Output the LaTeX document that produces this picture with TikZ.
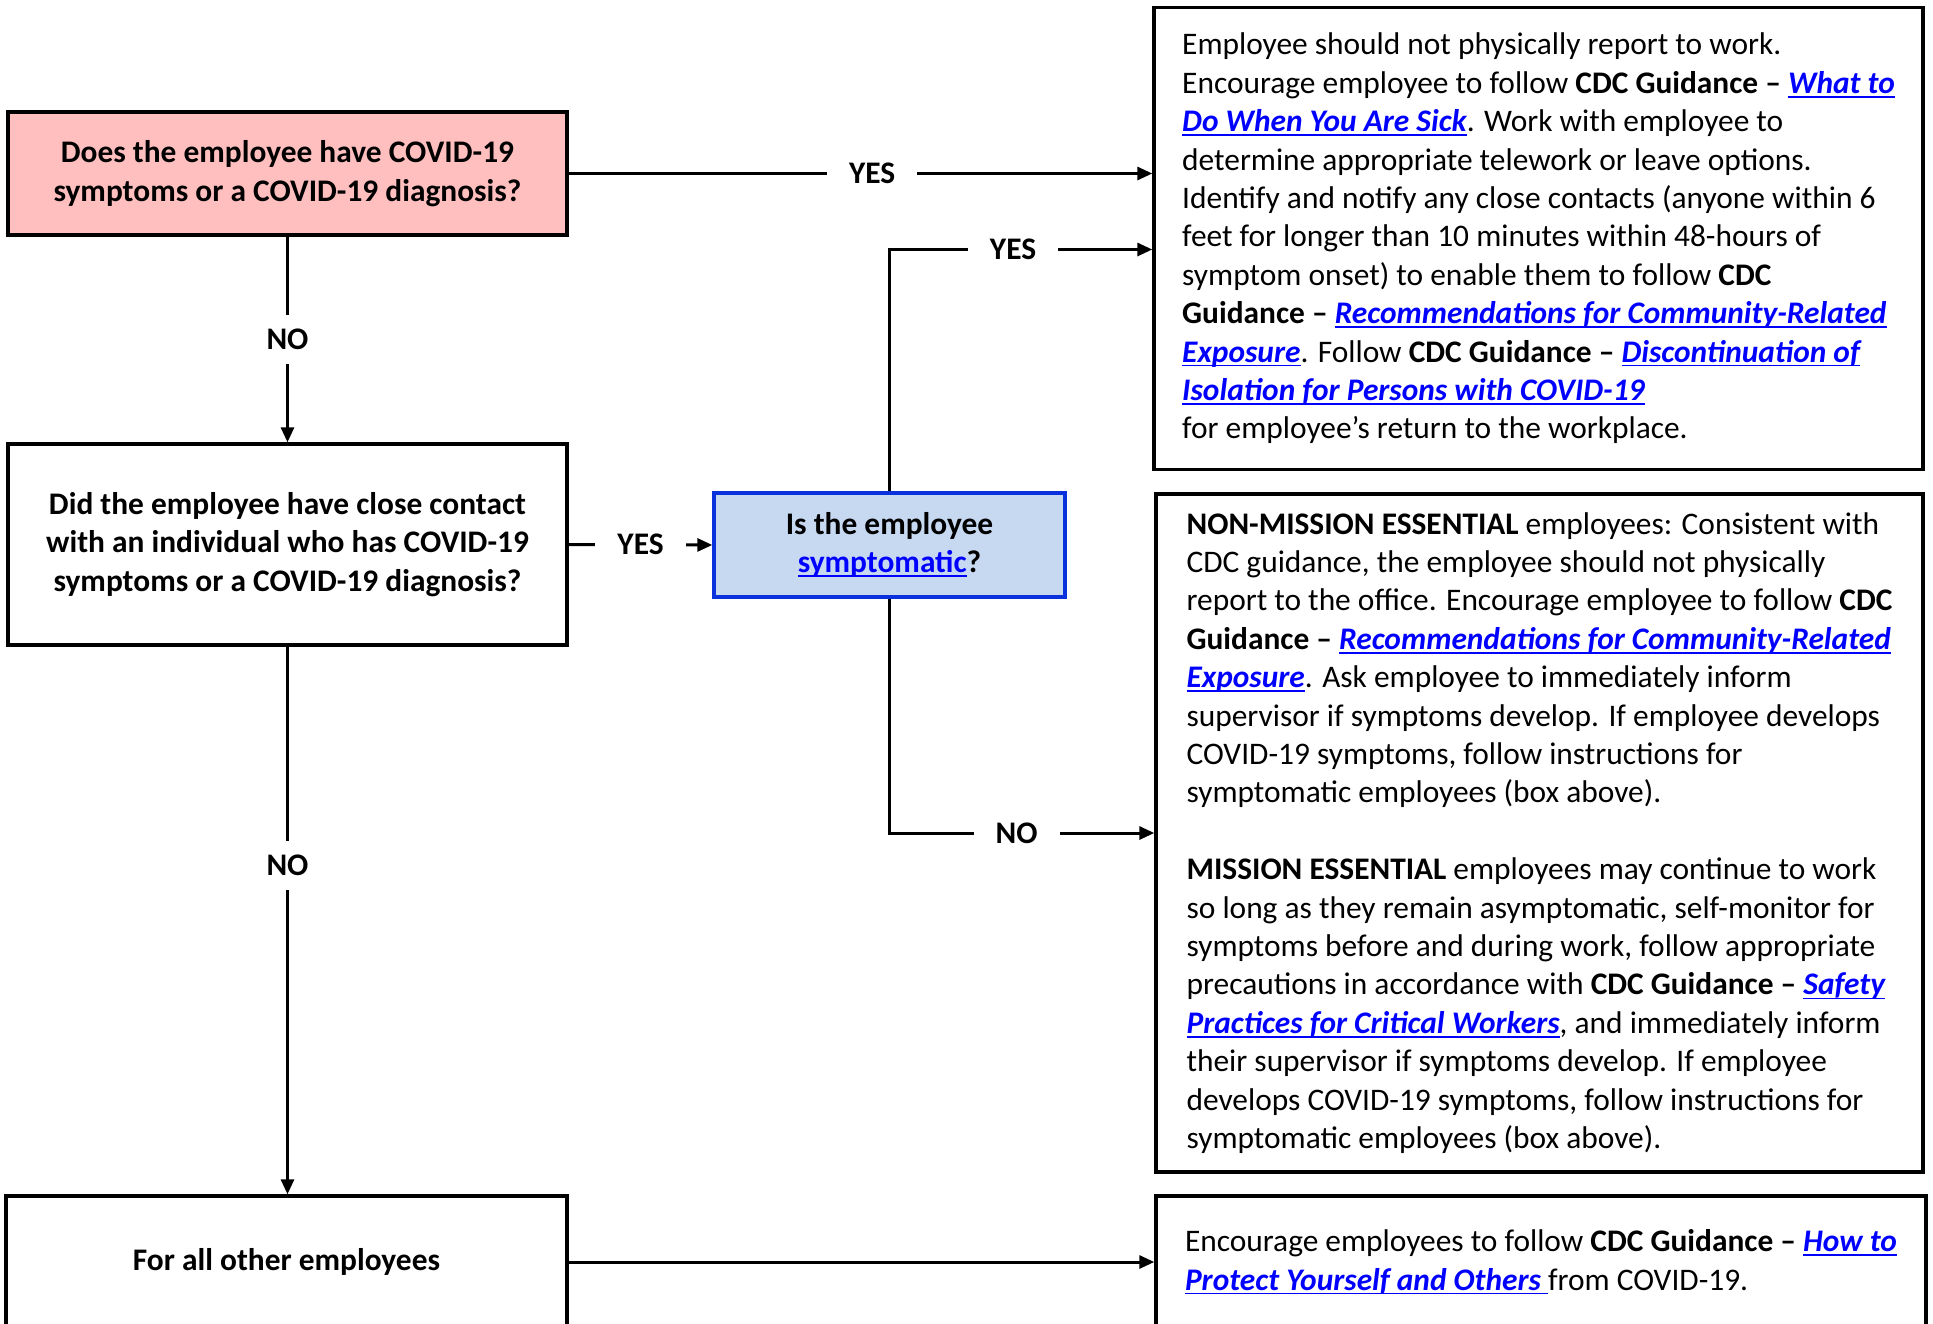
\documentclass[tikz,border=0pt]{standalone}
\usepackage{fontspec}
\setmainfont{Carlito}
\usetikzlibrary{arrows.meta}

\definecolor{pinkfill}{RGB}{255,191,191}
\definecolor{bluefill}{RGB}{198,217,241}
\definecolor{blueline}{RGB}{10,50,220}
\definecolor{linkblue}{RGB}{0,0,255}

\newcommand{\ulink}[1]{\setbox0\hbox{#1}\rlap{\rule[-2.2pt]{\wd0}{0.9pt}}\box0}
\newcommand{\lnk}[1]{{\color{linkblue}\bfseries\itshape\ulink{#1}}}
\newcommand{\cdcg}{\textbf{CDC Guidance --}}

\begin{document}
\begin{tikzpicture}[
    x=0.5pt, y=-0.5pt,
    every node/.style={
      font=\fontsize{15.7}{19.2}\selectfont,
    },
    qbox/.style={
      draw, line width=1.7pt, align=center,
      font=\fontsize{15.7}{19.2}\selectfont\bfseries
    },
    infobox/.style={
      draw, line width=1.7pt, align=left, inner xsep=9pt
    },
    lbl/.style={
      fill=white, inner xsep=11pt, inner ysep=7pt,
      font=\fontsize{15.7}{19.2}\selectfont\bfseries
    },
    arr/.style={
      line width=1.5pt, -{Triangle[length=7.5pt,width=6.5pt]}
    }
    ]
  \clip (0,0) rectangle (1933,1323);

  % questions
  \node[qbox, fill=pinkfill, minimum width=279.5pt, minimum height=61.5pt] (q1) at (287.5,173.5)
    {Does the employee have COVID-19\\symptoms or a COVID-19 diagnosis?};
  \node[qbox, fill=white, minimum width=279.5pt, minimum height=100.5pt] (q2) at (287.5,544.5)
    {Did the employee have close contact\\with an individual who has COVID-19\\symptoms or a COVID-19 diagnosis?};
  \node[qbox, draw=blueline, fill=bluefill, minimum width=175.5pt, minimum height=52pt] (sympt) at (889.5,545)
    {Is the employee\\{\color{linkblue}\ulink{symptomatic}}?};
  \node[qbox, fill=white, minimum width=280.5pt, minimum height=66pt] (others) at (286.5,1262)
    {For all other employees};

  % guidance boxes
  \node[infobox, minimum width=384.5pt, minimum height=231pt] (sick) at (1538.5,238.5)
    {Employee should not physically report to work.\\
     Encourage employee to follow \cdcg{} \lnk{What to}\\
     \lnk{Do When You Are Sick}. Work with employee to\\
     determine appropriate telework or leave options.\\
     Identify and notify any close contacts (anyone within 6\\
     feet for longer than 10 minutes within 48-hours of\\
     symptom onset) to enable them to follow \textbf{CDC}\\
     \textbf{Guidance --} \lnk{Recommendations for Community-Related}\\
     \lnk{Exposure}. Follow \cdcg{} \lnk{Discontinuation of}\\
     \lnk{Isolation for Persons with COVID-19}\\
     for employee’s return to the workplace.};
  \node[infobox, minimum width=383.5pt, minimum height=339pt] (contact) at (1539.5,833)
    {\textbf{NON-MISSION ESSENTIAL} employees: Consistent with\\
     CDC guidance, the employee should not physically\\
     report to the office. Encourage employee to follow \textbf{CDC}\\
     \textbf{Guidance --} \lnk{Recommendations for Community-Related}\\
     \lnk{Exposure}. Ask employee to immediately inform\\
     supervisor if symptoms develop. If employee develops\\
     COVID-19 symptoms, follow instructions for\\
     symptomatic employees (box above).\\[19.2pt]
     \textbf{MISSION ESSENTIAL} employees may continue to work\\
     so long as they remain asymptomatic, self-monitor for\\
     symptoms before and during work, follow appropriate\\
     precautions in accordance with \cdcg{} \lnk{Safety}\\
     \lnk{Practices for Critical Workers}, and immediately inform\\
     their supervisor if symptoms develop. If employee\\
     develops COVID-19 symptoms, follow instructions for\\
     symptomatic employees (box above).};
  \node[infobox, minimum width=385pt, minimum height=66pt] (protect) at (1541,1262)
    {Encourage employees to follow \cdcg{} \lnk{How to}\\
     \lnk{Protect Yourself and Others\ }from COVID-19.};

  % connectors
  \draw[arr] (q1.east) -- node[lbl, pos=0.52] {YES} (q1.east -| sick.west);
  \draw[arr] (q1.south) -- node[lbl] {NO} (q2.north);
  \draw[arr] (q2.east) -- node[lbl] {YES} (sympt.west);
  \draw[arr] (sympt.north) |- node[lbl, pos=0.735] {YES} ([yshift=-5.5pt]sick.west);
  \draw[arr] (sympt.south) |- node[lbl, pos=0.74] {NO} (contact.west);
  \draw[arr] (q2.south) -- node[lbl, pos=0.4] {NO} (q2.south |- others.north);
  \draw[arr] (others.east) -- (others.east -| protect.west);
\end{tikzpicture}
\end{document}
